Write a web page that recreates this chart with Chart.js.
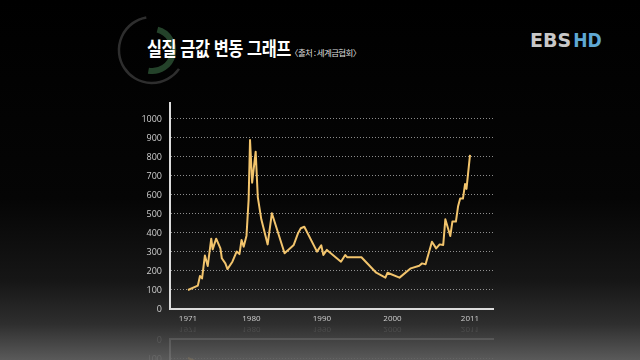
<!DOCTYPE html>
<html>
<head>
<meta charset="utf-8">
<script src="https://cdn.jsdelivr.net/npm/chart.js@4"></script>
<style>
  html, body { margin: 0; padding: 0; }
  body {
    width: 640px; height: 360px; overflow: hidden; position: relative;
    background: linear-gradient(to bottom, #000 0%, #050505 55%, #161616 78%, #2e2e2e 90%, #5a5a5a 100%);
  }
  #wrap { position: absolute; left: 0; top: 0; width: 640px; height: 360px; }
  #title {
    position: absolute; left: 147px; top: 34px; color: #fff;
    font-family: "Noto Sans CJK KR", sans-serif; font-size: 19px; font-weight: bold;
    letter-spacing: -0.5px; word-spacing: 1px; white-space: nowrap;
    transform: scaleX(0.86); transform-origin: 0 0;
  }
  #source {
    position: absolute; left: 290px; top: 46px; color: #ddd; white-space: nowrap;
    font-family: "Noto Sans CJK KR", sans-serif; font-size: 8.5px; letter-spacing: -0.6px;
  }
  #logo {
    position: absolute; left: 530px; top: 29px; font-family: "DejaVu Sans", sans-serif;
    font-size: 19px; font-weight: bold; white-space: nowrap;
  }
  #logo .e { color: #c8c8c8; }
  #logo .h { color: #5fa8d3; font-family: "Liberation Sans Narrow", "DejaVu Sans Condensed", sans-serif; margin-left: 2px; }
  #ring { position: absolute; left: 110px; top: 10px; }
</style>
</head>
<body>
<svg id="ring" width="90" height="80" viewBox="0 0 90 80">
  <path d="M 36.3 7.5 A 33 33 0 1 0 69 58.9" fill="none" stroke="#2e2e2e" stroke-width="2.5"/>
  <path d="M 47.4 19.7 A 21 21 0 0 1 38.4 60.7" fill="none" stroke="#24422a" stroke-width="6"/>
</svg>
<div id="title">실질 금값 변동 그래프</div>
<div id="source">〈출처 : 세계금협회〉</div>
<div id="logo"><span class="e">EBS</span><span class="h">HD</span></div>
<div id="wrap"><canvas id="chart"></canvas></div>
<script>
const years = [1971.0, 1972.4, 1972.7, 1973.0, 1973.4, 1973.8, 1974.3, 1974.5, 1975.0, 1975.6,
  1975.8, 1976.3, 1976.6, 1977.3, 1977.9, 1978.3, 1978.6, 1978.9, 1979.3, 1979.6,
  1979.8, 1980.1, 1980.6, 1980.9, 1981.4, 1982.3, 1982.9, 1984.7, 1986.0, 1986.6,
  1987.0, 1987.5, 1989.3, 1989.9, 1990.2, 1990.7, 1992.7, 1993.3, 1993.6, 1995.6,
  1997.7, 1999.0, 1999.3, 2001.0, 2002.6, 2003.8, 2004.2, 2004.7, 2005.6, 2006.2,
  2006.7, 2007.2, 2007.5, 2008.2, 2008.5, 2009.0, 2009.3, 2009.6, 2010.0, 2010.3,
  2010.5, 2011.0];
const realPrice = [100, 123, 174, 161, 282, 226, 370, 314, 370, 319,
  267, 240, 210, 249, 302, 289, 363, 328, 386, 574,
  889, 665, 828, 589, 472, 340, 504, 293, 337, 398,
  425, 433, 302, 335, 284, 311, 249, 284, 272, 272,
  191, 165, 191, 165, 214, 228, 240, 235, 354, 319,
  340, 337, 472, 384, 460, 460, 539, 581, 581, 658,
  632, 811];
const yTicks = [0, 100, 200, 300, 400, 500, 600, 700, 800, 900, 1000];
const xTicks = [1971, 1980, 1990, 2000, 2011];

// faint mirror image under the x axis
const reflection = {
  id: 'reflection',
  afterDraw(chart) {
    const ctx = chart.ctx;
    const axisY = 324;
    ctx.save();
    ctx.beginPath();
    ctx.rect(0, axisY + 2, chart.width, chart.height - axisY);
    ctx.clip();
    ctx.globalAlpha = 0.15;
    ctx.setTransform(1, 0, 0, -1, 0, axisY * 2);
    ctx.drawImage(chart.canvas, 0, 0);
    ctx.restore();
  }
};

new Chart(document.getElementById('chart'), {
  type: 'line',
  data: {
    datasets: [{
      data: years.map((x, i) => ({ x: x, y: realPrice[i] })),
      borderColor: '#f2c46c',
      borderWidth: 2,
      pointRadius: 0,
      tension: 0,
      borderJoinStyle: 'round'
    }]
  },
  options: {
    responsive: true,
    maintainAspectRatio: false,
    animation: false,
    layout: { autoPadding: false, padding: { left: 0, top: 103, right: 147, bottom: 21 } },
    plugins: { legend: { display: false }, tooltip: { enabled: false } },
    scales: {
      x: {
        type: 'linear',
        min: 1968.45,
        max: 2014.26,
        afterBuildTicks: s => { s.ticks = xTicks.map(v => ({ value: v })); },
        afterFit: s => { s.height = 30; },
        grid: { display: false, drawTicks: false },
        border: { display: true, color: '#dcdcdc', width: 2 },
        ticks: {
          padding: 5,
          color: '#cfcfcf',
          font: { family: 'Open Sans', size: 8 },
          maxRotation: 0,
          callback: v => String(v)
        }
      },
      y: {
        min: 0,
        max: 1084,
        afterBuildTicks: s => { s.ticks = yTicks.map(v => ({ value: v })); },
        afterFit: s => { s.width = 170; },
        grid: {
          drawTicks: false,
          color: ctx => ctx.tick && ctx.tick.value === 0 ? 'rgba(0,0,0,0)' : 'rgba(200,200,200,0.7)',
          lineWidth: 1
        },
        border: { display: true, color: '#dcdcdc', width: 2, dash: [1, 2] },
        ticks: {
          padding: 8,
          color: '#cfcfcf',
          font: { family: 'Open Sans', size: 9 },
          callback: v => String(v)
        }
      }
    }
  },
  plugins: [reflection]
});
</script>
</body>
</html>
